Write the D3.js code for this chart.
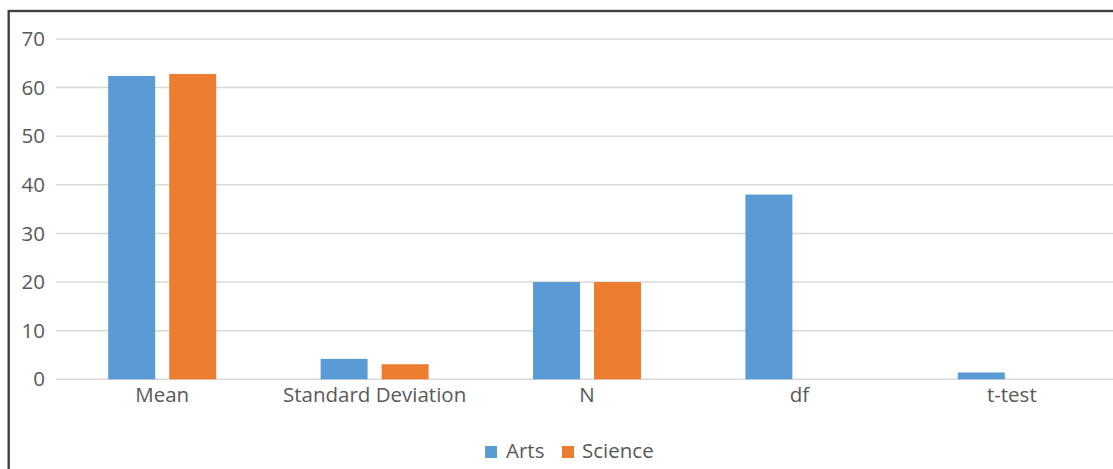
<!DOCTYPE html>
<html>
<head>
<meta charset="utf-8">
<script src="https://cdn.jsdelivr.net/npm/d3@7"></script>
<style>
  html, body { margin: 0; padding: 0; background: #fff; }
  svg { display: block; }
  text { font-family: "Open Sans", sans-serif; fill: #595959; }
</style>
</head>
<body>
<svg id="chart" width="1113" height="469"></svg>
<script>
const categories = ["Mean", "Standard Deviation", "N", "df", "t-test"];
const seriesNames = ["Arts", "Science"];
const arts = [62.4, 4.2, 20, 38, 1.4];
const science = [62.8, 3.1, 20, null, null];
const yTicks = [0, 10, 20, 30, 40, 50, 60, 70];
const colors = ["#5b9bd5", "#ed7d31"];
const fs = 20.5;

const svg = d3.select("#chart");

// outer border (only top and left visible)
svg.append("rect")
  .attr("x", 8.7).attr("y", 11)
  .attr("width", 1200).attr("height", 600)
  .attr("fill", "none").attr("stroke", "#404040").attr("stroke-width", 2.4);

const x0 = d3.scaleBand().domain(categories).range([56, 1118]).paddingInner(0).paddingOuter(0);
const y = d3.scaleLinear().domain([0, 70]).range([379.3, 39]);

// gridlines
svg.append("g").selectAll("line").data(yTicks).join("line")
  .attr("x1", 56).attr("x2", 1113)
  .attr("y1", d => y(d)).attr("y2", d => y(d))
  .attr("stroke", "#d9d9d9").attr("stroke-width", 1.5);

// y labels
const yAxis = d3.axisLeft(y).tickValues(yTicks).tickSize(0).tickPadding(0);
const gy = svg.append("g").attr("transform", "translate(45,0)").call(yAxis);
gy.select(".domain").remove();
gy.selectAll("text").attr("font-size", fs).attr("fill", "#595959")
  .style("font-family", "'Open Sans', sans-serif");

// bars
const groupW = 108;
const data = categories.map((c, i) => ({ cat: c, vals: [arts[i], science[i]] }));
const groups = svg.append("g").selectAll("g").data(data).join("g");
groups.each(function(d) {
  const cx = x0(d.cat) + x0.bandwidth() / 2;
  const x1 = d3.scaleBand().domain(seriesNames).range([cx - groupW / 2, cx + groupW / 2]).paddingInner(0.23);
  d3.select(this).selectAll("rect")
    .data(d.vals.map((v, j) => ({ v, s: seriesNames[j], j })).filter(e => e.v != null))
    .join("rect")
    .attr("x", e => x1(e.s))
    .attr("width", x1.bandwidth())
    .attr("y", e => y(e.v))
    .attr("height", e => y(0) - y(e.v))
    .attr("fill", e => colors[e.j]);
});

// x labels
const xAxis = d3.axisBottom(x0).tickSize(0).tickPadding(0);
const gx = svg.append("g").attr("transform", "translate(0,379.3)").call(xAxis);
gx.select(".domain").remove();
gx.selectAll("text").attr("font-size", fs).attr("fill", "#595959")
  .attr("dy", null).attr("y", 22.5)
  .style("font-family", "'Open Sans', sans-serif");

// legend
const legendItems = [
  { name: seriesNames[0], color: colors[0], sx: 485, tx: 506 },
  { name: seriesNames[1], color: colors[1], sx: 562, tx: 582 }
];
const lg = svg.append("g");
lg.selectAll("rect").data(legendItems).join("rect")
  .attr("x", d => d.sx).attr("y", 446).attr("width", 12).attr("height", 12)
  .attr("fill", d => d.color);
lg.selectAll("text").data(legendItems).join("text")
  .attr("x", d => d.tx).attr("y", 457.5)
  .attr("font-size", fs)
  .text(d => d.name);
</script>
</body>
</html>
